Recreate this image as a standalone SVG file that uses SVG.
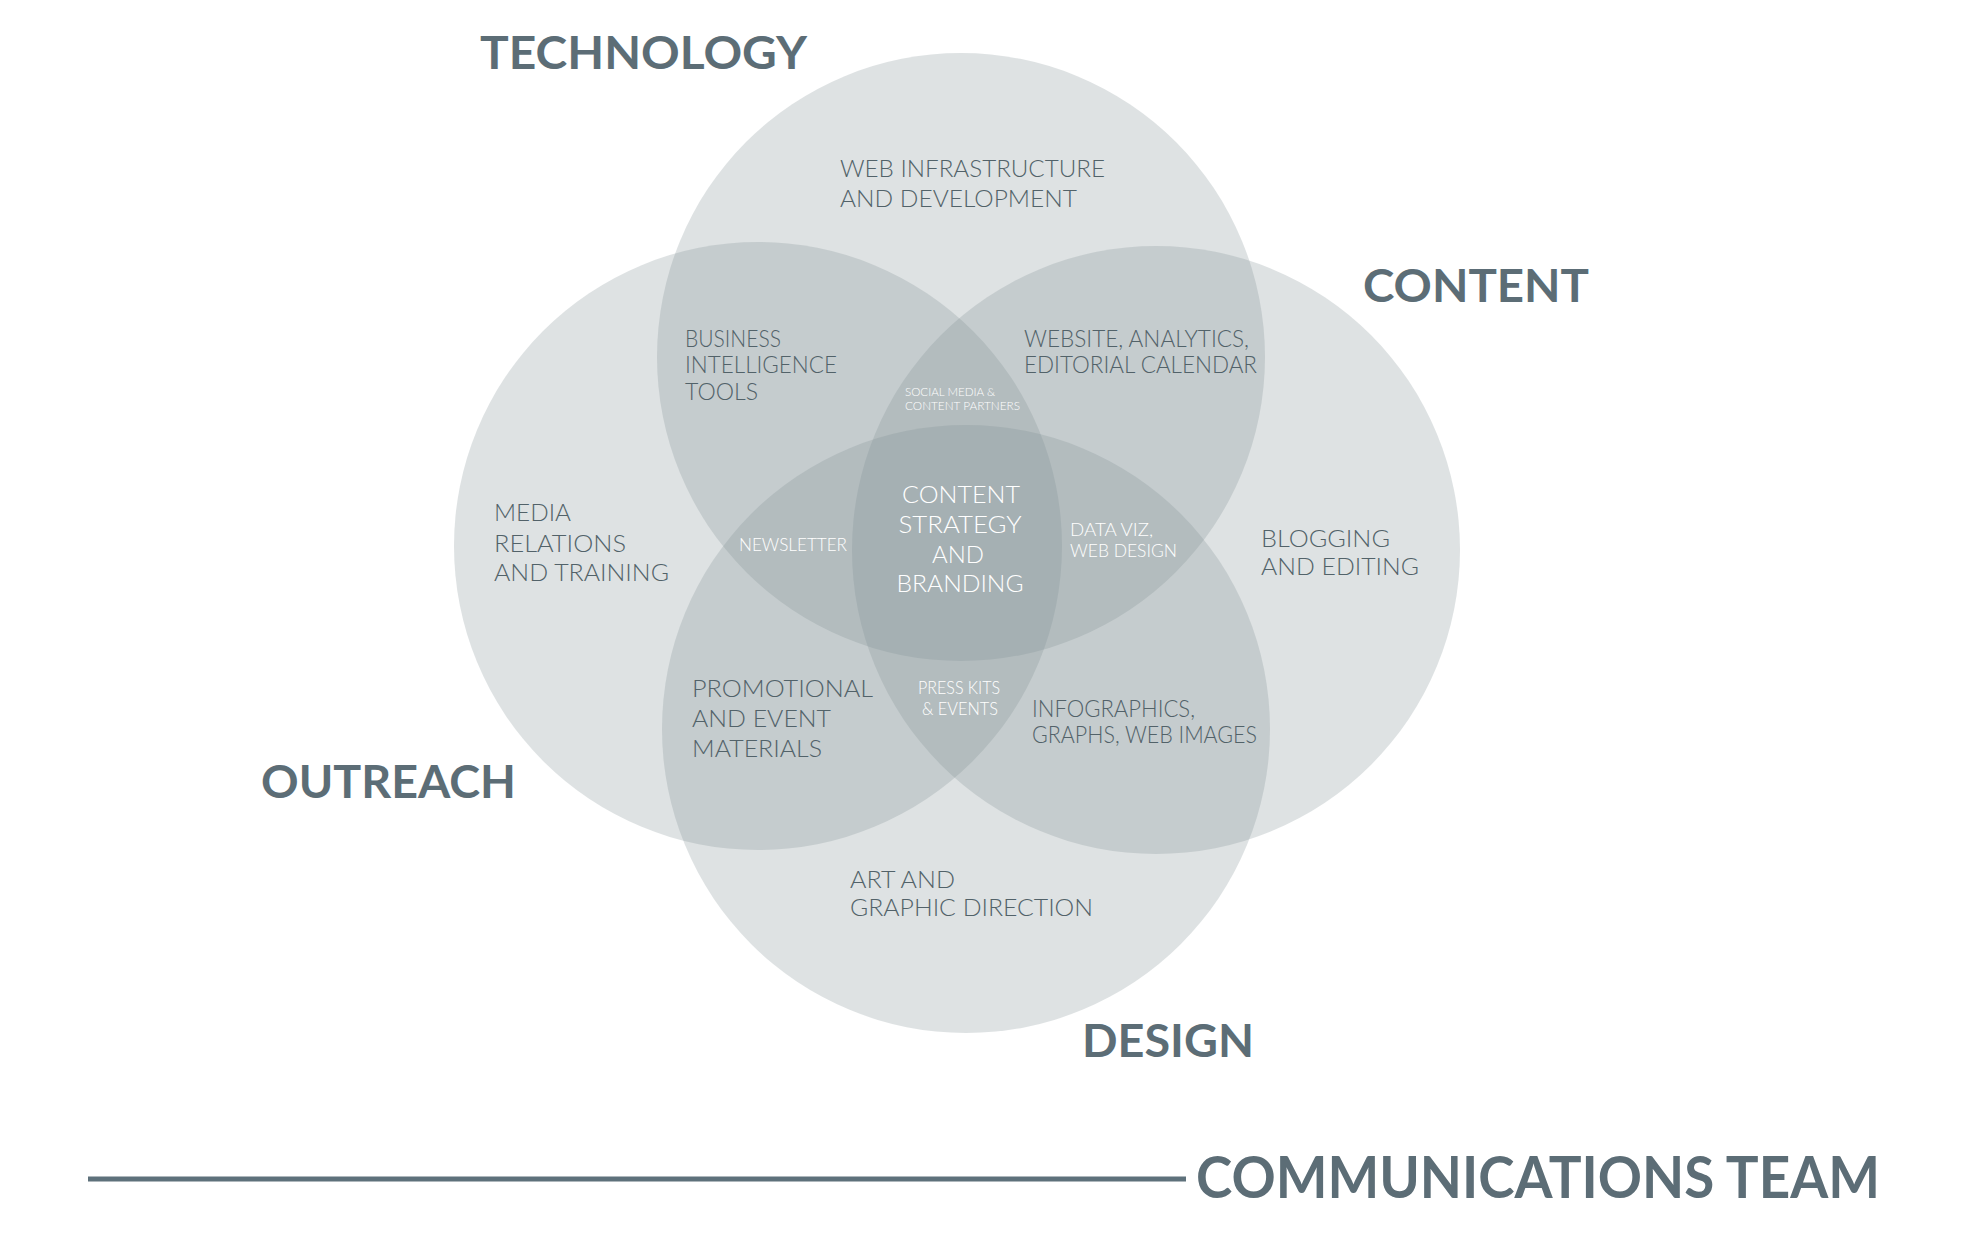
<svg xmlns="http://www.w3.org/2000/svg" width="1970" height="1244" viewBox="0 0 1970 1244">
<style>
.c{fill:#808e94;fill-opacity:0.26}
.h{font-family:Lato,"Liberation Sans",sans-serif;font-weight:700;fill:#5c6d76}
.t{font-family:Lato,"Liberation Sans",sans-serif;font-weight:300;fill:#526269;font-size:24px}
.w{font-family:Lato,"Liberation Sans",sans-serif;font-weight:300;fill:#ffffff}
</style>
<rect width="1970" height="1244" fill="#ffffff"/>
<g id="circles">
<circle id="technology" class="c" cx="961" cy="357" r="304"/>
<circle id="outreach" class="c" cx="758" cy="546" r="304"/>
<circle id="content" class="c" cx="1156" cy="550" r="304"/>
<circle id="design" class="c" cx="966" cy="729" r="304"/>
</g>
<g id="headings">
<text class="h" x="480" y="69" font-size="46" textLength="327" lengthAdjust="spacingAndGlyphs">TECHNOLOGY</text>
<text class="h" x="1363" y="302" font-size="46" textLength="226" lengthAdjust="spacingAndGlyphs">CONTENT</text>
<text class="h" x="261" y="798" font-size="46" textLength="255" lengthAdjust="spacingAndGlyphs">OUTREACH</text>
<text class="h" x="1082" y="1057" font-size="46" textLength="172" lengthAdjust="spacingAndGlyphs">DESIGN</text>
</g>
<g id="labels">
<text class="t" x="840" y="177" textLength="265" lengthAdjust="spacingAndGlyphs">WEB INFRASTRUCTURE</text>
<text class="t" x="840" y="207" textLength="237" lengthAdjust="spacingAndGlyphs">AND DEVELOPMENT</text>
<text class="t" x="685" y="347" textLength="96" lengthAdjust="spacingAndGlyphs">BUSINESS</text>
<text class="t" x="685" y="373" textLength="152" lengthAdjust="spacingAndGlyphs">INTELLIGENCE</text>
<text class="t" x="685" y="400" textLength="73" lengthAdjust="spacingAndGlyphs">TOOLS</text>
<text class="t" x="1024" y="347" textLength="225" lengthAdjust="spacingAndGlyphs">WEBSITE,  ANALYTICS,</text>
<text class="t" x="1024" y="373" textLength="233" lengthAdjust="spacingAndGlyphs">EDITORIAL CALENDAR</text>
<text class="t" x="494" y="521" textLength="77" lengthAdjust="spacingAndGlyphs">MEDIA</text>
<text class="t" x="494" y="552" textLength="132" lengthAdjust="spacingAndGlyphs">RELATIONS</text>
<text class="t" x="494" y="581" textLength="175" lengthAdjust="spacingAndGlyphs">AND TRAINING</text>
<text class="t" x="1261" y="547" textLength="129" lengthAdjust="spacingAndGlyphs">BLOGGING</text>
<text class="t" x="1261" y="575" textLength="158" lengthAdjust="spacingAndGlyphs">AND EDITING</text>
<text class="t" x="692" y="697" textLength="181" lengthAdjust="spacingAndGlyphs">PROMOTIONAL</text>
<text class="t" x="692" y="727" textLength="139" lengthAdjust="spacingAndGlyphs">AND EVENT</text>
<text class="t" x="692" y="757" textLength="130" lengthAdjust="spacingAndGlyphs">MATERIALS</text>
<text class="t" x="1032" y="717" font-size="23" textLength="163" lengthAdjust="spacingAndGlyphs">INFOGRAPHICS,</text>
<text class="t" x="1032" y="743" font-size="23" textLength="225" lengthAdjust="spacingAndGlyphs">GRAPHS, WEB IMAGES</text>
<text class="t" x="850" y="888" textLength="105" lengthAdjust="spacingAndGlyphs">ART AND</text>
<text class="t" x="850" y="916" textLength="243" lengthAdjust="spacingAndGlyphs">GRAPHIC DIRECTION</text>
</g>
<g id="center-labels">
<text class="w" x="905" y="396" font-size="11" textLength="90" lengthAdjust="spacingAndGlyphs">SOCIAL MEDIA &amp;</text>
<text class="w" x="905" y="410" font-size="11" textLength="115" lengthAdjust="spacingAndGlyphs">CONTENT PARTNERS</text>
<text class="w" x="739" y="551" font-size="17" textLength="108" lengthAdjust="spacingAndGlyphs">NEWSLETTER</text>
<text class="w" x="1070" y="536" font-size="17" textLength="83" lengthAdjust="spacingAndGlyphs">DATA VIZ,</text>
<text class="w" x="1070" y="557" font-size="17" textLength="107" lengthAdjust="spacingAndGlyphs">WEB DESIGN</text>
<text class="w" x="959" y="694" font-size="17" text-anchor="middle" textLength="82" lengthAdjust="spacingAndGlyphs">PRESS KITS</text>
<text class="w" x="960" y="715" font-size="17" text-anchor="middle" textLength="76" lengthAdjust="spacingAndGlyphs">&amp; EVENTS</text>
<text class="w" x="961" y="503" font-size="24" text-anchor="middle" textLength="118" lengthAdjust="spacingAndGlyphs">CONTENT</text>
<text class="w" x="960" y="533" font-size="24" text-anchor="middle" textLength="123" lengthAdjust="spacingAndGlyphs">STRATEGY</text>
<text class="w" x="958" y="563" font-size="24" text-anchor="middle" textLength="52" lengthAdjust="spacingAndGlyphs">AND</text>
<text class="w" x="960" y="592" font-size="24" text-anchor="middle" textLength="127" lengthAdjust="spacingAndGlyphs">BRANDING</text>
</g>
<g id="footer">
<line x1="88" y1="1179" x2="1186" y2="1179" stroke="#5e717b" stroke-width="5"/>
<text class="h" x="1196" y="1198" font-size="58" textLength="684" lengthAdjust="spacingAndGlyphs">COMMUNICATIONS TEAM</text>
</g>
</svg>
